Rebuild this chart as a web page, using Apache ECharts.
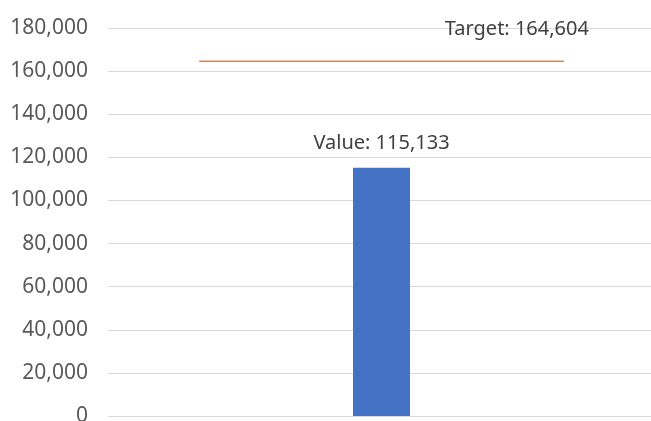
<!DOCTYPE html>
<html>
<head>
<meta charset="utf-8">
<script src="https://cdn.jsdelivr.net/npm/echarts@6/dist/echarts.min.js"></script>
<style>
  html, body {margin: 0; padding: 0; background: #fff;}
  #chart {width: 651px; height: 421px;}
</style>
</head>
<body>
<div id="chart"></div>
<script>
// three slots: bar sits in the middle one, target line spans first to last centre
const categories = ['', 'Value', ''];
const actualValues = ['-', 115133, '-'];
const targetValues = [164604, 164604, 164604];
const yTicks = {min: 0, max: 180000, interval: 20000};

let myChart = echarts.init(document.getElementById('chart'));
let option = {
  animation: false,
  textStyle: {fontFamily: 'Noto Sans'},
  grid: {left: 108, width: 547, top: 28, bottom: 5, outerBoundsMode: 'none', containLabel: false},
  xAxis: {
    type: 'category',
    data: categories,
    axisLine: {show: false},
    axisTick: {show: false},
    axisLabel: {show: false}
  },
  yAxis: {
    type: 'value',
    min: yTicks.min,
    max: yTicks.max,
    interval: yTicks.interval,
    axisLine: {show: false},
    axisTick: {show: false},
    splitLine: {lineStyle: {color: '#d9d9d9', width: 1}},
    axisLabel: {
      margin: 20,
      fontSize: 21,
      color: '#595959',
      formatter: v => v.toLocaleString('en-US')
    }
  },
  series: [
    {
      name: 'Value',
      type: 'bar',
      barWidth: 57,
      itemStyle: {color: '#4472C4'},
      label: {
        show: true,
        position: 'top',
        distance: 15,
        fontSize: 20,
        color: '#404040',
        formatter: p => 'Value: ' + p.value.toLocaleString('en-US')
      },
      data: actualValues
    },
    {
      name: 'Target',
      type: 'line',
      symbol: 'circle',
      symbolSize: 0,
      showSymbol: true,
      lineStyle: {color: '#ED7D31', width: 1.5},
      label: {show: false},
      data: targetValues.map((v, i) => i === targetValues.length - 1 ? {
        value: v,
        label: {
          show: true,
          position: 'top',
          offset: [-47, -17],
          fontSize: 20,
          color: '#404040',
          formatter: p => 'Target: ' + p.value.toLocaleString('en-US')
        }
      } : v)
    }
  ]
};
myChart.setOption(option);
</script>
</body>
</html>
